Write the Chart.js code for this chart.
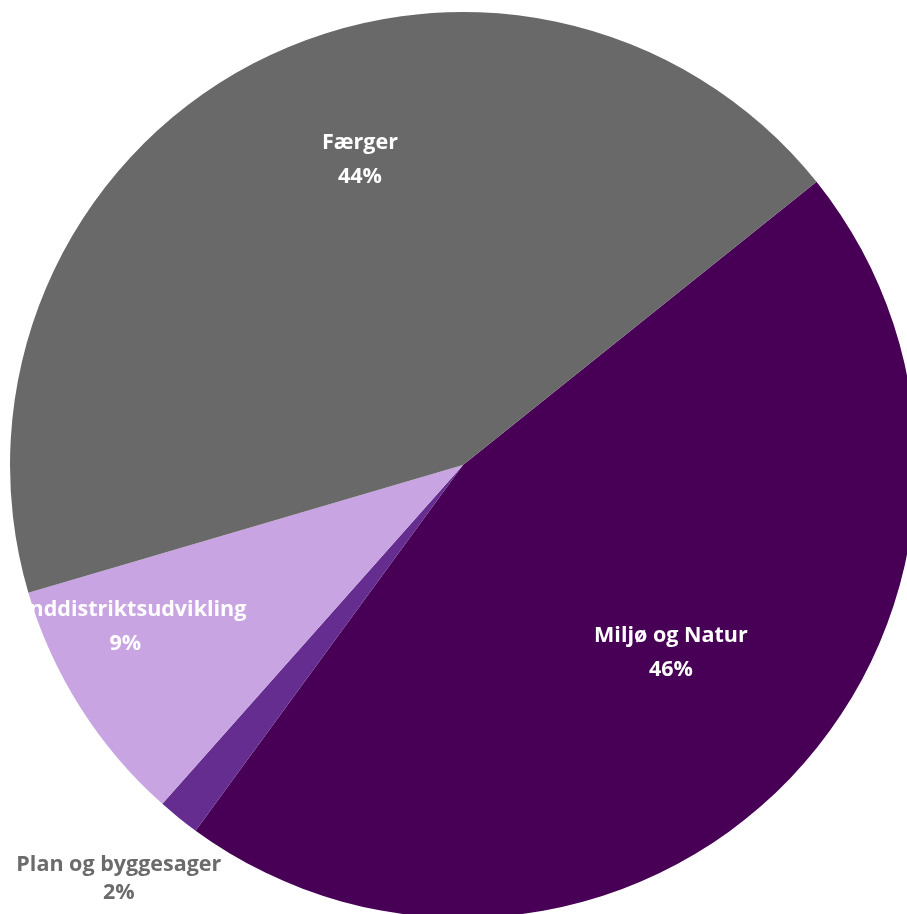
<!DOCTYPE html>
<html>
<head>
<meta charset="utf-8">
<script src="https://cdn.jsdelivr.net/npm/chart.js@4"></script>
<style>
html,body{margin:0;padding:0;background:#fff;overflow:hidden;width:907px;height:914px;}
canvas{position:absolute;left:0;top:0;}
</style>
</head>
<body>
<canvas id="c" width="926" height="930"></canvas>
<script>
const categories = ["Miljø og Natur", "Plan og byggesager", "Landdistriktsudvikling", "Færger"];
const values = [45.8, 1.5, 8.9, 43.8];
const percentLabels = ["46%", "2%", "9%", "44%"];
const colors = ["#470055", "#652D8F", "#C8A5E2", "#696969"];
const labelColors = ["#ffffff", "#6b6b6b", "#ffffff", "#ffffff"];
// label placement: radial fraction of radius and angle shift (degrees) from slice mid
const labelRadius = [0.615, 1.185, 0.825, 0.715];
const labelShift = [-2, 1, 7, 9];
const lineGap = [34, 28, 34, 34];

const labelPlugin = {
  id: 'sliceLabels',
  afterDatasetsDraw(chart) {
    const ctx = chart.ctx;
    const meta = chart.getDatasetMeta(0);
    ctx.save();
    ctx.font = 'bold 21.5px "Open Sans", Lato, sans-serif';
    ctx.textAlign = 'center';
    ctx.textBaseline = 'middle';
    meta.data.forEach((arc, i) => {
      const p = arc.getProps(['x','y','startAngle','endAngle','outerRadius'], true);
      const mid = (p.startAngle + p.endAngle) / 2 + labelShift[i] * Math.PI / 180;
      const r = p.outerRadius * labelRadius[i];
      const x = p.x + Math.cos(mid) * r;
      const y = p.y + Math.sin(mid) * r + 2;
      ctx.fillStyle = labelColors[i];
      ctx.fillText(categories[i], x, y - lineGap[i] / 2);
      ctx.fillText(percentLabels[i], x, y + lineGap[i] / 2);
    });
    ctx.restore();
  }
};

new Chart(document.getElementById('c'), {
  type: 'pie',
  data: {
    labels: categories,
    datasets: [{
      data: values,
      backgroundColor: colors,
      borderWidth: 0
    }]
  },
  options: {
    responsive: false,
    animation: false,
    rotation: 51.3,
    layout: { padding: { left: 10, top: 12, right: 10, bottom: 12 } },
    plugins: { legend: { display: false }, tooltip: { enabled: false } }
  },
  plugins: [labelPlugin]
});
</script>
</body>
</html>
